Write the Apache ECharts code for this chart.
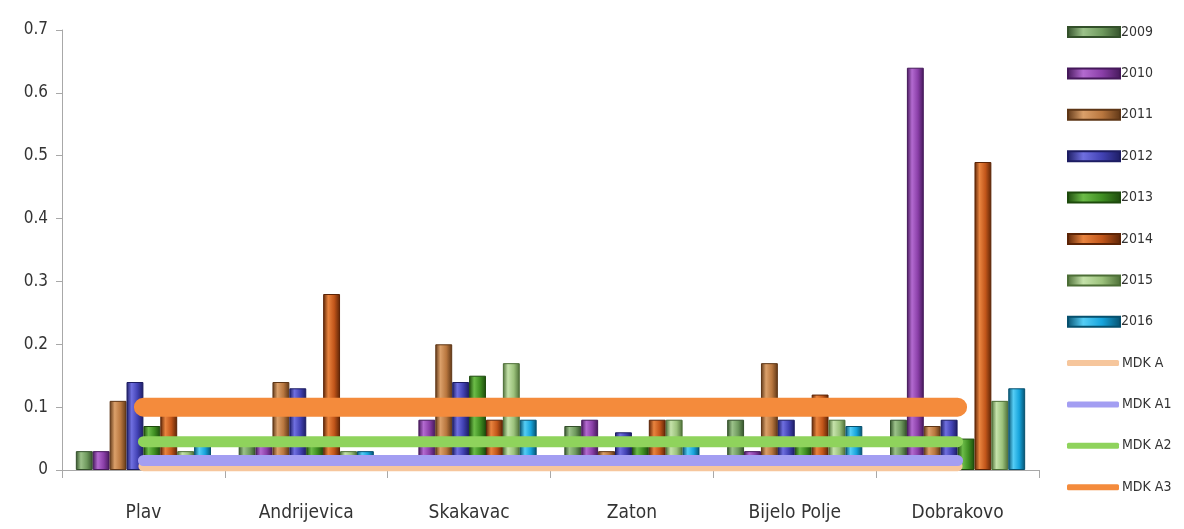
<!DOCTYPE html>
<html>
<head>
<meta charset="utf-8">
<script src="https://cdn.jsdelivr.net/npm/echarts@6/dist/echarts.min.js"></script>
<style>
  html, body { margin: 0; padding: 0; background: #fff; }
  #chart { width: 1184px; height: 529px; }
</style>
</head>
<body>
<div id="chart"></div>
<script>
const categories = ['Plav', 'Andrijevica', 'Skakavac', 'Zaton', 'Bijelo Polje', 'Dobrakovo']
const years = ['2009', '2010', '2011', '2012', '2013', '2014', '2015', '2016']

const v2009 = [0.03, 0.04, 0.02, 0.07, 0.08, 0.08]
const v2010 = [0.03, 0.04, 0.08, 0.08, 0.03, 0.64]
const v2011 = [0.11, 0.14, 0.20, 0.03, 0.17, 0.07]
const v2012 = [0.14, 0.13, 0.14, 0.06, 0.08, 0.08]
const v2013 = [0.07, 0.04, 0.15, 0.04, 0.04, 0.05]
const v2014 = [0.10, 0.28, 0.08, 0.08, 0.12, 0.49]
const v2015 = [0.03, 0.03, 0.17, 0.08, 0.08, 0.11]
const v2016 = [0.04, 0.03, 0.08, 0.04, 0.07, 0.13]

const mdkNames = ['MDK A', 'MDK A1', 'MDK A2', 'MDK A3']
const mdkValues = [0.006, 0.015, 0.045, 0.1]

const yearValues = [v2009, v2010, v2011, v2012, v2013, v2014, v2015, v2016]
// base / light / dark for each year bar
const yearColors = [
  ['#6f9a5e', '#9cc28a', '#33502a'],
  ['#8a3fa8', '#b36ad0', '#45185a'],
  ['#b9773f', '#dba06a', '#5e3616'],
  ['#4242b4', '#6f6fe0', '#1c1c62'],
  ['#3f8f22', '#6cbc48', '#1d4a0c'],
  ['#c2561a', '#e9843f', '#5c2406'],
  ['#9cc27c', '#c5e2aa', '#4c6e36'],
  ['#16a4dc', '#55cdf5', '#06506e']
]
const mdkColors = ['#f6c69c', '#a39ef2', '#8fd35c', '#f48b3c']
const mdkWidths = [10, 11, 11, 19]

function barGradient(c) {
  return new echarts.graphic.LinearGradient(0, 0, 1, 0, [
    {offset: 0, color: c[2]},
    {offset: 0.3, color: c[1]},
    {offset: 0.65, color: c[0]},
    {offset: 1, color: c[2]}
  ])
}

const series = []
for (let i = 0; i < years.length; i++) {
  series.push({
    name: years[i],
    type: 'bar',
    data: yearValues[i],
    barGap: '0%',
    barCategoryGap: '17%',
    itemStyle: {
      color: barGradient(yearColors[i]),
      borderColor: yearColors[i][2],
      borderWidth: 1
    }
  })
}
for (let i = 0; i < mdkNames.length; i++) {
  series.push({
    name: mdkNames[i],
    type: 'line',
    data: categories.map(() => mdkValues[i]),
    symbol: 'none',
    z: 5 + i,
    itemStyle: {color: mdkColors[i]},
    lineStyle: {color: mdkColors[i], width: mdkWidths[i], cap: 'round'}
  })
}

const font = '"Liberation Sans Narrow", "DejaVu Sans Condensed", sans-serif'

const chart = echarts.init(document.getElementById('chart'))
const option = {
  animation: false,
  backgroundColor: '#fff',
  grid: {left: 62, right: 145, top: 30, bottom: 59},
  legend: [
    {
      data: years.map(y => ({name: y, itemStyle: {}})),
      orient: 'vertical',
      left: 1062,
      top: 20,
      itemWidth: 52,
      itemHeight: 10,
      itemGap: 27.4,
      icon: 'rect',
      textStyle: {fontFamily: font, fontSize: 14, color: '#333', padding: [0, 0, 0, -4]}
    },
    {
      data: mdkNames,
      orient: 'vertical',
      left: 1062,
      top: 351,
      itemWidth: 52,
      itemHeight: 6,
      itemGap: 27.4,
      icon: 'roundRect',
      textStyle: {fontFamily: font, fontSize: 14, color: '#333', lineHeight: 14, padding: [0, 0, 0, -2]}
    }
  ],
  xAxis: {
    type: 'category',
    data: categories,
    axisLine: {lineStyle: {color: '#a8a8a8', width: 1}},
    axisTick: {show: true, length: 8, lineStyle: {color: '#a8a8a8'}},
    axisLabel: {fontFamily: font, fontSize: 19, color: '#333', margin: 34}
  },
  yAxis: {
    type: 'value',
    min: 0,
    max: 0.7,
    interval: 0.1,
    splitLine: {show: false},
    axisLine: {show: true, lineStyle: {color: '#a8a8a8', width: 1}},
    axisTick: {show: true, length: 6, lineStyle: {color: '#a8a8a8'}},
    axisLabel: {fontFamily: font, fontSize: 17, color: '#333', margin: 14}
  },
  series: series
}
option && chart.setOption(option)
</script>
</body>
</html>
